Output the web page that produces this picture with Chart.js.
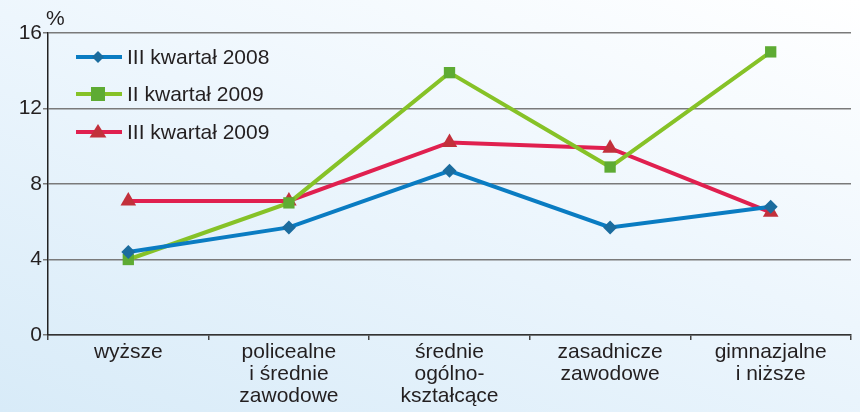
<!DOCTYPE html>
<html>
<head>
<meta charset="utf-8">
<script src="https://cdn.jsdelivr.net/npm/chart.js@4"></script>
<style>
  html, body { margin: 0; padding: 0; }
  body { width: 860px; height: 412px; overflow: hidden; }
  .wrap {
    position: relative; width: 860px; height: 412px;
    background: linear-gradient(200deg, #ffffff 0%, #edf6fd 45%, #d8ebf8 100%);
  }
</style>
</head>
<body>
<div class="wrap"><canvas id="myChart" width="860" height="412"></canvas></div>
<script>
const categories = [
  "wyższe",
  ["policealne", "i średnie", "zawodowe"],
  ["średnie", "ogólno-", "kształcące"],
  ["zasadnicze", "zawodowe"],
  ["gimnazjalne", "i niższe"],
];
const q3_2008 = [4.4, 5.7, 8.7, 5.7, 6.8];
const q2_2009 = [4.0, 7.0, 13.9, 8.9, 15.0];
const q3_2009 = [7.1, 7.1, 10.2, 9.9, 6.5];
const seriesNames = ["III kwartał 2008", "II kwartał 2009", "III kwartał 2009"];
const yTicks = [0, 4, 8, 12, 16];

const FONT = "'Liberation Sans', Arial, sans-serif";

// legend drawn inside the plot, line + marker + label
const innerLegend = {
  id: "innerLegend",
  afterDraw(chart) {
    const c = chart.ctx;
    const rows = [57, 94, 132];
    c.save();
    chart.data.datasets.forEach((ds, i) => {
      const y = rows[i];
      c.strokeStyle = ds.borderColor;
      c.lineWidth = 4;
      c.beginPath();
      c.moveTo(76, y);
      c.lineTo(122, y);
      c.stroke();
      c.fillStyle = ds.pointBackgroundColor;
      c.beginPath();
      drawMarker(c, ds.pointStyle, ds.pointRadius - 1, 98, y);
      c.fill();
      c.fillStyle = "#231f20";
      c.font = "21px " + FONT;
      c.textBaseline = "middle";
      c.fillText(ds.label, 127, y + 1);
    });
    c.font = "21px " + FONT;
    c.fillStyle = "#231f20";
    c.textBaseline = "alphabetic";
    c.fillText("%", 46, 25);
    c.restore();
  },
};

function drawMarker(c, style, r, x, y) {
  if (style === "rectRot") {
    c.moveTo(x, y - r); c.lineTo(x + r, y); c.lineTo(x, y + r); c.lineTo(x - r, y);
  } else if (style === "rect") {
    c.rect(x - r, y - r, 2 * r, 2 * r);
  } else {
    c.moveTo(x, y - r); c.lineTo(x + r * 1.05, y + r * 0.7); c.lineTo(x - r * 1.05, y + r * 0.7);
  }
  c.closePath();
}

const ctx = document.getElementById("myChart");

new Chart(ctx, {
  type: "line",
  data: {
    labels: categories,
    datasets: [
      {
        label: seriesNames[0],
        data: q3_2008,
        borderColor: "#0a7cc2",
        pointBackgroundColor: "#1b6c9e",
        pointBorderWidth: 0,
        pointStyle: "rectRot",
        pointRadius: 7,
        borderWidth: 4,
        tension: 0,
      },
      {
        label: seriesNames[1],
        data: q2_2009,
        borderColor: "#86c227",
        pointBackgroundColor: "#5eab33",
        pointBorderWidth: 0,
        pointStyle: "rect",
        pointRadius: 8,
        borderWidth: 4,
        tension: 0,
      },
      {
        label: seriesNames[2],
        data: q3_2009,
        borderColor: "#e0204f",
        pointBackgroundColor: "#c2303b",
        pointBorderWidth: 0,
        pointStyle: "triangle",
        pointRadius: 9,
        borderWidth: 4,
        tension: 0,
      },
    ],
  },
  options: {
    responsive: false,
    animation: false,
    layout: { padding: { left: 0, right: 3, top: 33, bottom: 0 } },
    plugins: {
      legend: { display: false },
      tooltip: { enabled: false },
    },
    scales: {
      x: {
        offset: true,
        afterFit: (scale) => { scale.height = 77; },
        grid: { drawOnChartArea: false, offset: true, tickLength: 5, color: "#444", lineWidth: 1.5 },
        border: { color: "#333", width: 1.5 },
        ticks: {
          color: "#231f20",
          font: { family: FONT, size: 21, lineHeight: "22px" },
          padding: 1,
          maxRotation: 0,
          autoSkip: false,
        },
      },
      y: {
        min: 0,
        max: 16,
        afterFit: (scale) => { scale.width = 48; },
        afterBuildTicks: (scale) => { scale.ticks = yTicks.map((v) => ({ value: v })); },
        grid: { color: "#7a7a7a", lineWidth: 1.5, tickLength: 5 },
        border: { color: "#222", width: 1.5 },
        ticks: {
          color: "#231f20",
          font: { family: FONT, size: 21 },
          padding: 1,
        },
      },
    },
  },
  plugins: [innerLegend],
});
</script>
</body>
</html>
